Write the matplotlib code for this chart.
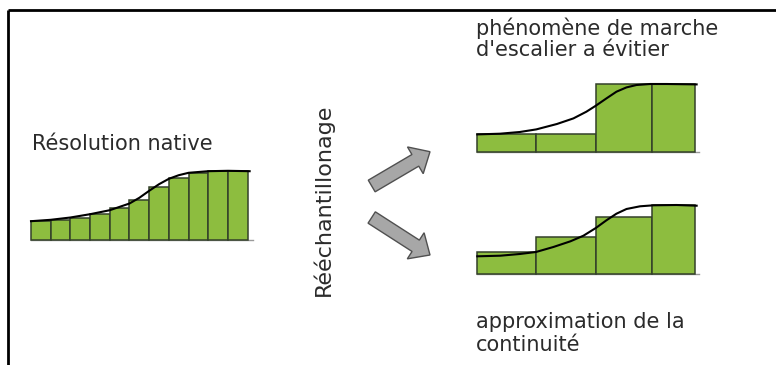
import matplotlib.pyplot as plt
from matplotlib.patches import FancyArrow

# bar heights (px above baseline)
native_heights = [18.3, 19.3, 21.7, 25.3, 31.7, 40, 52.7, 62, 67, 68.3, 68.3]
native_curve_x = [0, 1, 2, 3, 4, 5, 5.5, 6, 6.5, 7, 7.5, 8, 9, 10, 11.1]
native_curve_y = [18.3, 19.7, 22, 25.3, 29.3, 36, 41.7, 48.7, 55.3, 60.7, 64.3, 66.7, 68.3, 68.7, 68.3]

stair_heights = [17.3, 17.3, 67.7, 67.7]
smooth_heights = [21.7, 36.7, 56.7, 68.7]
coarse_edges = [0, 0.995, 2.01, 2.97, 3.69]

stair_curve_x = [0, 0.385, 0.72, 1.0, 1.35, 1.63, 1.85, 2.01, 2.19, 2.36, 2.53, 2.7, 2.93, 3.21, 3.72]
stair_curve_y = [17.3, 18, 19.7, 22.3, 27.7, 33.3, 40, 46, 53.3, 60, 64.3, 66.7, 67.7, 67.7, 67.3]
smooth_curve_x = [0, 0.39, 0.72, 0.995, 1.29, 1.58, 1.8, 2.01, 2.19, 2.36, 2.53, 2.76, 2.99, 3.38, 3.72]
smooth_curve_y = [17.7, 18.3, 20, 22, 27, 32.7, 38.3, 46, 53.7, 60.3, 65, 67.7, 68.7, 69, 68.3]

GREEN = '#8dbd3f'
EDGE = '#33402a'
TXT = '#2b2b2b'
W, H = 776, 365

fig = plt.figure(figsize=(W / 100, H / 100), dpi=100)
bg = fig.add_axes([0, 0, 1, 1])
bg.set_xlim(0, W)
bg.set_ylim(H, 0)
bg.axis('off')

# frame
bg.plot([8, W], [10, 10], color='black', lw=2, solid_capstyle='butt')
bg.plot([8, 8], [10, H], color='black', lw=2, solid_capstyle='butt')


def px_axes(x0, x1, y_base, y_top):
    ax = fig.add_axes([x0 / W, 1 - y_base / H, (x1 - x0) / W, (y_base - y_top) / H])
    ax.axis('off')
    return ax


def draw_chart(ax, lefts, widths, heights, cx, cy, xmax):
    ax.set_xlim(0, xmax)
    ax.set_ylim(0, 80)
    ax.plot([0, xmax], [0, 0], color='#9a9a9a', lw=1, clip_on=False)
    ax.bar(lefts, heights, width=widths, align='edge', color=GREEN,
           edgecolor=EDGE, linewidth=1.1, clip_on=False, zorder=2)
    ax.plot(cx, cy, color='black', lw=1.5, clip_on=False, zorder=3)


# native resolution
ax1 = px_axes(31, 252.6, 239.5, 159.5)
draw_chart(ax1, list(range(len(native_heights))), 1, native_heights,
           native_curve_x, native_curve_y, 11.25)

# coarse resampling
widths = [b - a for a, b in zip(coarse_edges[:-1], coarse_edges[1:])]
ax2 = px_axes(477.3, 699, 151.7, 71.7)
draw_chart(ax2, coarse_edges[:-1], widths, stair_heights,
           stair_curve_x, stair_curve_y, 3.76)

ax3 = px_axes(477.3, 699, 274, 194)
draw_chart(ax3, coarse_edges[:-1], widths, smooth_heights,
           smooth_curve_x, smooth_curve_y, 3.76)

# arrows
for (x, y, dx, dy) in [(371.7, 186, 58.3, -34.3), (371.7, 217.5, 58.3, 37.5)]:
    bg.add_patch(FancyArrow(x, y, dx, dy, width=13.5, head_width=31, head_length=17,
                            length_includes_head=True, facecolor='#a7a7a7',
                            edgecolor='#505050', lw=1))

fs = 15
bg.text(32, 150, 'Résolution native', fontsize=fs, color=TXT, va='baseline')
bg.text(476, 35, 'phénomène de marche', fontsize=fs, color=TXT, va='baseline')
bg.text(476, 56, "d'escalier a évitier", fontsize=fs, color=TXT, va='baseline')
bg.text(476, 328, 'approximation de la', fontsize=fs, color=TXT, va='baseline')
bg.text(476, 351, 'continuité', fontsize=fs, color=TXT, va='baseline')
bg.text(323, 200, 'Rééchantillonage', fontsize=16, color=TXT, rotation=90,
        ha='center', va='center')

fig.savefig('out.png', dpi=100)
